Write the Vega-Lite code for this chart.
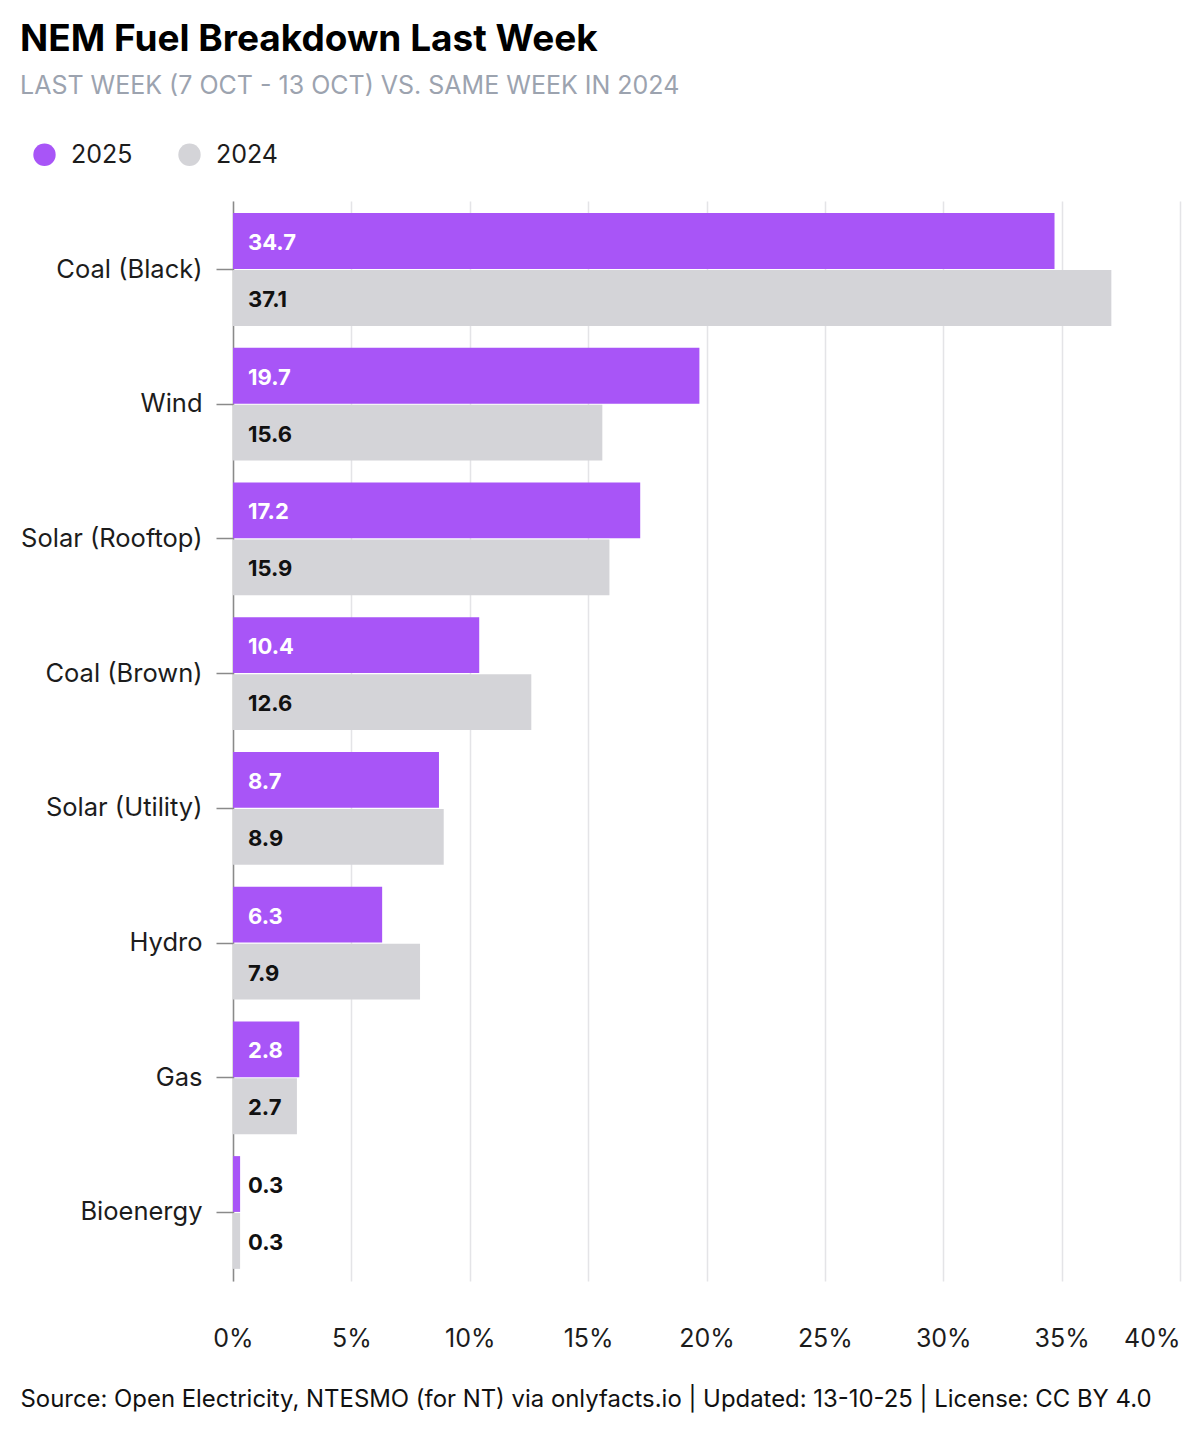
{
  "$schema": "https://vega.github.io/schema/vega-lite/v6.json",
  "width": 947,
  "height": 1080,
  "autosize": {"type": "none"},
  "padding": {"left": 233, "top": 201, "right": 20, "bottom": 159},
  "background": "white",
  "config": {
    "font": "Inter",
    "view": {"stroke": null}
  },
  "title": {
    "text": "NEM Fuel Breakdown Last Week",
    "subtitle": "LAST WEEK (7 OCT - 13 OCT) VS. SAME WEEK IN 2024",
    "anchor": "start",
    "frame": "bounds",
    "font": "Inter",
    "fontSize": 37,
    "fontWeight": "bold",
    "color": "#000000",
    "subtitleFont": "Inter",
    "subtitleFontSize": 25,
    "subtitleColor": "#9ca3af",
    "subtitlePadding": 15,
    "offset": 42
  },
  "data": {
    "values": [
      {"fuel": "Coal (Black)", "year": "2025", "value": 34.7},
      {"fuel": "Coal (Black)", "year": "2024", "value": 37.1},
      {"fuel": "Wind", "year": "2025", "value": 19.7},
      {"fuel": "Wind", "year": "2024", "value": 15.6},
      {"fuel": "Solar (Rooftop)", "year": "2025", "value": 17.2},
      {"fuel": "Solar (Rooftop)", "year": "2024", "value": 15.9},
      {"fuel": "Coal (Brown)", "year": "2025", "value": 10.4},
      {"fuel": "Coal (Brown)", "year": "2024", "value": 12.6},
      {"fuel": "Solar (Utility)", "year": "2025", "value": 8.7},
      {"fuel": "Solar (Utility)", "year": "2024", "value": 8.9},
      {"fuel": "Hydro", "year": "2025", "value": 6.3},
      {"fuel": "Hydro", "year": "2024", "value": 7.9},
      {"fuel": "Gas", "year": "2025", "value": 2.8},
      {"fuel": "Gas", "year": "2024", "value": 2.7},
      {"fuel": "Bioenergy", "year": "2025", "value": 0.3},
      {"fuel": "Bioenergy", "year": "2024", "value": 0.3}
    ]
  },
  "encoding": {
    "y": {
      "field": "fuel",
      "type": "nominal",
      "sort": null,
      "scale": {"paddingInner": 0.163, "paddingOuter": 0.09},
      "axis": {
        "title": null,
        "labelFont": "Inter",
        "labelFontSize": 25.5,
        "labelLimit": 400,
        "labelColor": "#1c1c1c",
        "labelPadding": 14,
        "tickSize": 17,
        "tickColor": "#8a8a8a",
        "tickWidth": 1.5,
        "domainColor": "#8a8a8a",
        "domainWidth": 1.5,
        "grid": false
      }
    },
    "yOffset": {
      "field": "year",
      "type": "nominal",
      "sort": ["2025", "2024"],
      "scale": {"paddingInner": 0.02}
    }
  },
  "layer": [
    {
      "mark": {"type": "bar"},
      "encoding": {
        "x": {
          "field": "value",
          "type": "quantitative",
          "scale": {"domain": [0, 40], "nice": false},
          "axis": {
            "values": [0, 5, 10, 15, 20, 25, 30, 35, 40],
            "labelExpr": "datum.value + '%'",
            "labelFont": "Inter",
            "labelFontSize": 25,
            "labelColor": "#1c1c1c",
            "labelPadding": 45,
            "labelAlign": {"expr": "datum.value == 40 ? 'right' : 'center'"},
            "ticks": false,
            "domain": false,
            "grid": true,
            "gridColor": "#e4e4e7",
            "gridWidth": 1.5,
            "title": "Source: Open Electricity, NTESMO (for NT) via onlyfacts.io | Updated: 13-10-25 | License: CC BY 4.0",
            "titleFont": "Inter",
            "titleFontSize": 23.9,
            "titleFontWeight": "normal",
            "titleColor": "#111111",
            "titleAnchor": "start",
            "titleAlign": "left",
            "titleBaseline": "alphabetic",
            "titleLimit": 1200,
            "titleX": -213,
            "titleY": 125
          }
        },
        "color": {
          "field": "year",
          "type": "nominal",
          "scale": {"domain": ["2025", "2024"], "range": ["#a855f7", "#d4d4d8"]},
          "legend": {
            "title": null,
            "orient": "none",
            "direction": "horizontal",
            "legendX": -201,
            "legendY": -59,
            "symbolType": "circle",
            "symbolSize": 500,
            "symbolStrokeWidth": 0,
            "labelFont": "Inter",
            "labelFontSize": 25,
            "labelColor": "#1c1c1c",
            "labelOffset": 14,
            "columnPadding": 44
          }
        }
      }
    },
    {
      "mark": {"type": "text", "align": "left", "baseline": "middle", "dx": 15, "dy": 2, "fontSize": 22, "fontWeight": "bold", "font": "Inter"},
      "encoding": {
        "x": {"datum": 0, "type": "quantitative"},
        "text": {"field": "value", "type": "quantitative", "format": ".1f"},
        "color": {
          "condition": {"test": "datum.year == '2025' && datum.value >= 1", "value": "#ffffff"},
          "value": "#111111"
        }
      }
    }
  ]
}
